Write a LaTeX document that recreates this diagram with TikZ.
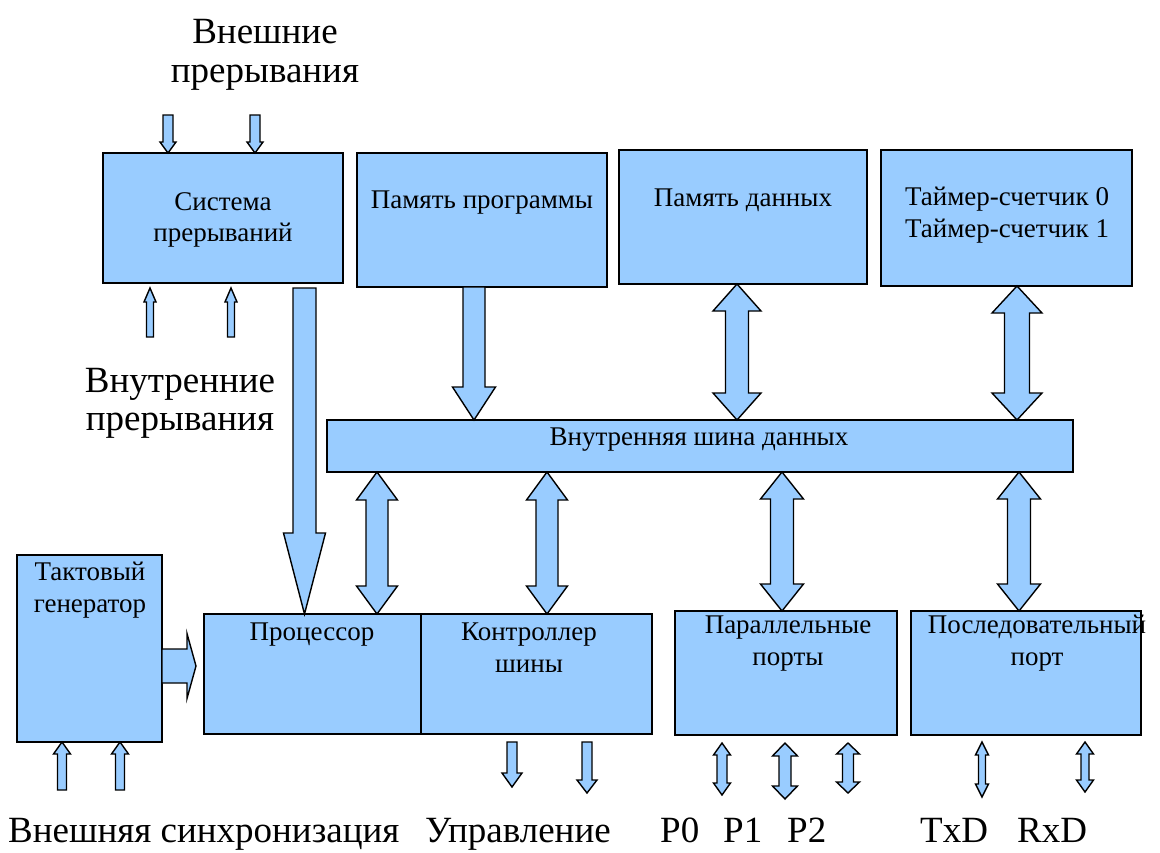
\documentclass[tikz,border=0pt]{standalone}
\usepackage{fontspec}
\setmainfont{Liberation Serif}
\usetikzlibrary{calc}

\definecolor{boxblue}{HTML}{99CCFF}

% block arrows between two points; #1 = axis position (x for vertical arrows)
% #4 = half shaft width, #5 = half head width, #6 = head length
\newcommand{\blkdown}[6]{%
  \draw[barrow] let \p1=(#2), \p2=(#3) in
    (#1pt-#4pt,\y1) -- (#1pt+#4pt,\y1) -- (#1pt+#4pt,\y2+#6pt) -- (#1pt+#5pt,\y2+#6pt)
    -- (#1pt,\y2) -- (#1pt-#5pt,\y2+#6pt) -- (#1pt-#4pt,\y2+#6pt) -- cycle;}
\newcommand{\blkup}[6]{%
  \draw[barrow] let \p1=(#2), \p2=(#3) in
    (#1pt,\y1) -- (#1pt+#5pt,\y1-#6pt) -- (#1pt+#4pt,\y1-#6pt) -- (#1pt+#4pt,\y2)
    -- (#1pt-#4pt,\y2) -- (#1pt-#4pt,\y1-#6pt) -- (#1pt-#5pt,\y1-#6pt) -- cycle;}
\newcommand{\blkboth}[6]{%
  \draw[barrow] let \p1=(#2), \p2=(#3) in
    (#1pt,\y1) -- (#1pt+#5pt,\y1-#6pt) -- (#1pt+#4pt,\y1-#6pt) -- (#1pt+#4pt,\y2+#6pt)
    -- (#1pt+#5pt,\y2+#6pt) -- (#1pt,\y2) -- (#1pt-#5pt,\y2+#6pt) -- (#1pt-#4pt,\y2+#6pt)
    -- (#1pt-#4pt,\y1-#6pt) -- (#1pt-#5pt,\y1-#6pt) -- cycle;}
% horizontal arrow: from the x of #1 to the point #2
\newcommand{\blkright}[5]{%
  \draw[barrow] let \p1=(#1), \p2=(#2) in
    (\x1,\y2+#3pt) -- (\x2-#5pt,\y2+#3pt) -- (\x2-#5pt,\y2+#4pt) -- (\x2,\y2)
    -- (\x2-#5pt,\y2-#4pt) -- (\x2-#5pt,\y2-#3pt) -- (\x1,\y2-#3pt) -- cycle;}
% rectangle given by its corners
\newcommand{\boxat}[5]{%
  \node[blk, anchor=north west, minimum width={#4-#2}, minimum height={#5-#3}] (#1) at (#2,#3) {};}

\tikzset{
  blk/.style={draw=black, line width=1.5pt, fill=boxblue, inner sep=0pt, outer sep=0pt},
  barrow/.style={draw=black, line width=1.4pt, fill=boxblue, line join=miter},
  txt/.style={font=\fontsize{27}{32}\selectfont, inner sep=0pt, anchor=base},
  big/.style={font=\fontsize{37}{40}\selectfont, inner sep=0pt, anchor=base},
  bigw/.style={font=\fontsize{37}{40}\selectfont, inner sep=0pt, anchor=base west},
}

\begin{document}
\begin{tikzpicture}[x=1pt, y=-1pt]
\useasboundingbox (0,0) rectangle (1160,852);

% ---------- blocks ----------
\boxat{sys}{103}{153}{343}{283}
\boxat{prog}{357}{153}{607}{287}
\boxat{data}{619}{150}{867}{284}
\boxat{timer}{881}{150}{1132}{286}
\boxat{bus}{327}{420}{1073}{472}
\boxat{clk}{17}{555}{162}{742}
\boxat{cpu}{204}{614}{421}{734}
\boxat{ctrl}{421}{614}{652}{734}
\boxat{par}{675}{611}{897}{735}
\boxat{ser}{911}{611}{1141}{735}

% ---------- block captions ----------
\node[txt] (sysA) at (223,210) {Система};
\node[txt] (sysB) at (223,241) {прерываний};
\node[txt] (progA) at (482,208) {Память программы};
\node[txt] (dataA) at (743,206) {Память данных};
\node[txt] (timA) at (1007,205) {Таймер-счетчик 0};
\node[txt] (timB) at (1007,237) {Таймер-счетчик 1};
\node[txt] (busA) at (699,445) {Внутренняя шина данных};
\node[txt] (clkA) at (90,580) {Тактовый};
\node[txt] (clkB) at (90,612) {генератор};
\node[txt] (cpuA) at (312,640) {Процессор};
\node[txt] (ctrlA) at (529,640) {Контроллер};
\node[txt] (ctrlB) at (529,672) {шины};
\node[txt] (parA) at (788,633) {Параллельные};
\node[txt] (parB) at (788,665) {порты};
\node[txt] (serA) at (1037,633) {Последовательный};
\node[txt] (serB) at (1037,665) {порт};

% ---------- free labels ----------
\node[big] (extA) at (265,43) {Внешние};
\node[big] (extB) at (265,82) {прерывания};
\node[big] (intA) at (180,392) {Внутренние};
\node[big] (intB) at (180,430) {прерывания};
\node[bigw] (sync) at (8,842) {Внешняя синхронизация};
\node[bigw] (ctl) at (425,842) {Управление};
\node[bigw] (p0) at (660,842) {P0};
\node[bigw] (p1) at (723,842) {P1};
\node[bigw] (p2) at (787,842) {P2};
\node[bigw] (txd) at (920,842) {TxD};
\node[bigw] (rxd) at (1017,842) {RxD};

% ---------- free arrow ends ----------
\coordinate (ei1) at (168,115);
\coordinate (ei2) at (255,115);
\coordinate (ii1t) at (150,288);  \coordinate (ii1b) at (150,337);
\coordinate (ii2t) at (231,288);  \coordinate (ii2b) at (231,337);
\coordinate (irq) at (304.5,288);
\coordinate (clkout) at (196,666);
\coordinate (sy1) at (62,790);    \coordinate (sy2) at (120,790);
\coordinate (c1t) at (512,742);   \coordinate (c1b) at (512,787);
\coordinate (c2t) at (587,742);   \coordinate (c2b) at (587,793);
\coordinate (p0t) at (722,743);   \coordinate (p0b) at (722,795);
\coordinate (p1t) at (785,743);   \coordinate (p1b) at (785,799);
\coordinate (p2t) at (848,743);   \coordinate (p2b) at (848,793);
\coordinate (txt) at (982,742);   \coordinate (txb) at (982,797);
\coordinate (rxt) at (1085,742);  \coordinate (rxb) at (1085,792);

% ---------- arrows ----------
\blkdown{168}{ei1}{sys.north}{5}{8}{11}
\blkdown{255}{ei2}{sys.north}{5}{8}{11}
\blkup{150}{ii1t}{ii1b}{3.5}{6}{14}
\blkup{231}{ii2t}{ii2b}{3.5}{6}{14}
\blkdown{304.5}{irq}{cpu.north}{11.5}{21}{81}
\blkdown{474}{prog.south}{bus.north}{11}{21.5}{33}
\blkboth{737}{data.south}{bus.north}{11.5}{24}{27}
\blkboth{1017}{timer.south}{bus.north}{12.5}{25}{27}
\blkboth{377}{bus.south}{cpu.north}{11}{20.5}{28}
\blkboth{547}{bus.south}{ctrl.north}{11}{20.5}{28}
\blkboth{782}{bus.south}{par.north}{11.5}{21.5}{27}
\blkboth{1019}{bus.south}{ser.north}{11.5}{21.5}{27}
\blkright{clk.east}{clkout}{17}{32.5}{9}
\blkup{62}{clk.south}{sy1}{4.5}{8.5}{12}
\blkup{120}{clk.south}{sy2}{4.5}{8.5}{12}
\blkdown{512}{c1t}{c1b}{5}{10}{14}
\blkdown{587}{c2t}{c2b}{5}{10}{13}
\blkboth{722}{p0t}{p0b}{5}{8.5}{12}
\blkboth{785}{p1t}{p1b}{6}{12.5}{13}
\blkboth{848}{p2t}{p2b}{5.5}{11.5}{11}
\blkboth{982}{txt}{txb}{3.5}{6.5}{13}
\blkboth{1085}{rxt}{rxb}{4}{8.5}{12}
\end{tikzpicture}
\end{document}
